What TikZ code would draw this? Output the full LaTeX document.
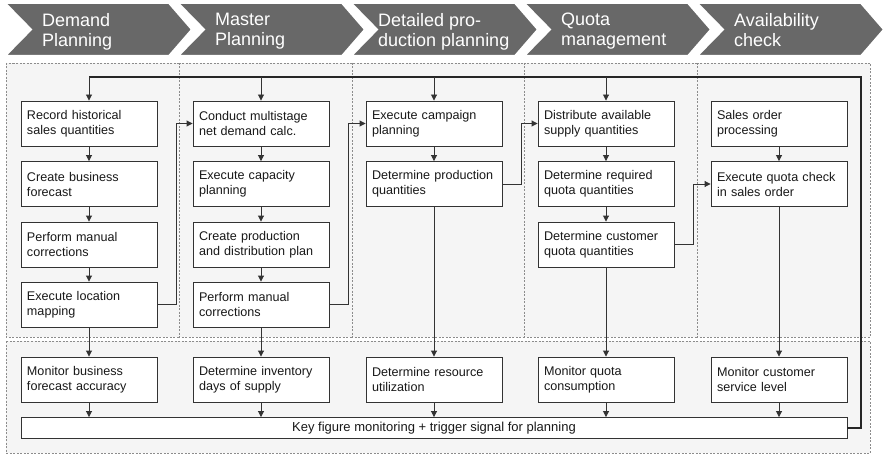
\documentclass[tikz,border=0pt]{standalone}
\usepackage{fontspec}
\setmainfont{Liberation Sans}
\usetikzlibrary{arrows.meta}
\definecolor{chevgray}{RGB}{104,104,104}
\definecolor{bgfill}{RGB}{245,245,245}
\begin{document}
\begin{tikzpicture}[x=1pt,y=-1pt,
 box/.style={draw=black!80, line width=0.9pt, fill=white, minimum width=136pt, minimum height=45pt, text width=124pt, align=left, inner sep=0pt, font=\fontsize{12.6}{15}\selectfont, text=black!90},
 keybox/.style={draw=black!80, line width=0.9pt, fill=white, minimum width=826pt, minimum height=21pt, align=center, inner sep=0pt, font=\fontsize{13}{15}\selectfont, text=black!90},
 arr/.style={-{Triangle[length=6pt,width=6pt]}, line width=0.9pt, draw=black!80},
 fback/.style={line width=1.3pt, draw=black!85},
 region/.style={draw=black!45, fill=bgfill, line width=0.8pt, dash pattern=on 2pt off 1.5pt},
 chev/.style={fill=chevgray, draw=white, line width=2pt},
 chevtext/.style={text=white, font=\fontsize{18}{20}\selectfont, align=left, anchor=north west, inner sep=0pt, execute at begin node=\strut}]

\useasboundingbox (0,0) rectangle (885,457);

% chevrons
\foreach \i in {0,...,4} {
  \pgfmathsetmacro\x{5+173*\i}
  \filldraw[chev] (\x,3) -- (\x+164,3) -- (\x+187,29.5) -- (\x+164,56) -- (\x,56) -- (\x+26,29.5) -- cycle;
}
\node[chevtext] (h1) at (42,13) {Demand\\Planning};
\node[chevtext] (h2) at (215,13) {Master\\Planning};
\node[chevtext] (h3) at (378,13) {Detailed pro-\\duction planning};
\node[chevtext] (h4) at (561,13) {Quota\\management};
\node[chevtext] (h5) at (734,13) {Availability\\check};

% regions
\foreach \a/\b in {6/179,179/352,352/524,524/697,697/870}
  \draw[region] (\a,63) rectangle (\b,337);
\draw[region] (6,341) rectangle (870,453);

% column 1
\node[box] (a1) at (89,123.5) {Record historical\\sales quantities};
\node[box] (a2) at (89,184) {Create business\\forecast};
\node[box] (a3) at (89,244.5) {Perform manual\\corrections};
\node[box] (a4) at (89,304.5) {Execute location\\mapping};
\node[box] (am) at (89,379.5) {Monitor business\\forecast accuracy};
% column 2
\node[box] (b1) at (261,123.5) {Conduct multistage\\net demand calc.};
\node[box] (b2) at (261,184) {Execute capacity\\planning};
\node[box] (b3) at (261,244.5) {Create production\\and distribution plan};
\node[box] (b4) at (261,304.5) {Perform manual\\corrections};
\node[box] (bm) at (261,379.5) {Determine inventory\\days of supply};
% column 3
\node[box] (c1) at (434,123.5) {Execute campaign\\planning};
\node[box] (c2) at (434,184) {Determine production\\quantities};
\node[box] (cm) at (434,379.5) {Determine resource\\utilization};
% column 4
\node[box] (d1) at (606,123.5) {Distribute available\\supply quantities};
\node[box] (d2) at (606,184) {Determine required\\quota quantities};
\node[box] (d3) at (606,244.5) {Determine customer\\quota quantities};
\node[box] (dm) at (606,379.5) {Monitor quota\\consumption};
% column 5
\node[box] (e1) at (779,123.5) {Sales order\\processing};
\node[box] (e2) at (779,184) {Execute quota check\\in sales order};
\node[box] (em) at (779,379.5) {Monitor customer\\service level};
% key figure box
\node[keybox] (key) at (434,428) {Key figure monitoring + trigger signal for planning};

% vertical arrows
\draw[arr] (a1) -- (a2); \draw[arr] (a2) -- (a3); \draw[arr] (a3) -- (a4); \draw[arr] (a4) -- (am);
\draw[arr] (b1) -- (b2); \draw[arr] (b2) -- (b3); \draw[arr] (b3) -- (b4); \draw[arr] (b4) -- (bm);
\draw[arr] (c1) -- (c2); \draw[arr] (c2) -- (cm);
\draw[arr] (d1) -- (d2); \draw[arr] (d2) -- (d3); \draw[arr] (d3) -- (dm);
\draw[arr] (e1) -- (e2); \draw[arr] (e2) -- (em);
\foreach \n in {am,bm,cm,dm,em}
  \draw[arr] (\n.south) -- (\n.south |- key.north);

% cross-column connectors
\draw[arr] (a4.east) -- ++(18.5,0) |- (b1.west);
\draw[arr] (b4.east) -- ++(19,0) |- (c1.west);
\draw[arr] (c2.east) -- ++(18.5,0) |- (d1.west);
\draw[arr] (d3.east) -- ++(19,0) |- (e2.west);

% feedback loop
\coordinate (fbB) at (861,428);
\coordinate (fbR) at (861,77);
\coordinate (fbL) at (89,77);
\draw[fback] (key.east) -- (fbB) -- (fbR) -- (fbL);
\foreach \n in {a1,b1,c1,d1}
  \draw[arr] (\n.north |- fbL) -- (\n.north);
\end{tikzpicture}
\end{document}
